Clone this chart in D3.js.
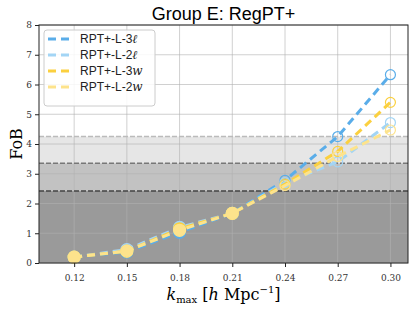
<!DOCTYPE html>
<html><head><meta charset="utf-8">
<script src="https://cdn.jsdelivr.net/npm/d3@7"></script>
<style>body{margin:0;background:#fff}</style>
</head><body>
<svg id="c" width="415" height="310"></svg>
<script>
const kmax = [0.12, 0.15, 0.18, 0.21, 0.24, 0.27, 0.30];
const seriesNames = ["RPT+-L-3ℓ", "RPT+-L-2ℓ", "RPT+-L-3w", "RPT+-L-2w"];
const fobL3l = [0.20, 0.37, 1.03, 1.67, 2.78, 4.25, 6.33];
const fobL2l = [0.20, 0.45, 1.20, 1.67, 2.70, 3.40, 4.72];
const fobL3w = [0.20, 0.40, 1.15, 1.67, 2.65, 3.75, 5.40];
const fobL2w = [0.20, 0.40, 1.10, 1.67, 2.60, 3.58, 4.47];
const bandLevels = [2.42, 3.35, 4.25];
const xTicks = [0.12, 0.15, 0.18, 0.21, 0.24, 0.27, 0.30];
const yTicks = [0,1,2,3,4,5,6,7,8];
const title = "Group E: RegPT+";

const colors = ["#5aade9", "#a3d5f5", "#fbd03f", "#fde38c"];
const allSeries = [fobL3l, fobL2l, fobL3w, fobL2w];

const svg = d3.select("#c");
const L = 39, R = 408, T = 25, B = 263;
const x = d3.scaleLinear().domain([0.10, 0.31]).range([L, R]);
const y = d3.scaleLinear().domain([0, 8]).range([B, T]);

// bands
const bandFill = ["#9a9a9a", "#c2c2c2", "#e6e6e6"];
const bandStroke = ["#444", "#777", "#bbb"];
for (let i = bandLevels.length - 1; i >= 0; i--) {
  svg.append("rect").attr("x", L).attr("width", R - L)
    .attr("y", y(bandLevels[i])).attr("height", y(0) - y(bandLevels[i]))
    .attr("fill", bandFill[i]);
}
// grid
const g = svg.append("g");
xTicks.forEach(t => g.append("line").attr("x1", x(t)).attr("x2", x(t)).attr("y1", T).attr("y2", B)
  .attr("stroke", "#b0b0b0").attr("stroke-opacity", 0.6).attr("stroke-width", 1));
yTicks.forEach(t => g.append("line").attr("y1", y(t)).attr("y2", y(t)).attr("x1", L).attr("x2", R)
  .attr("stroke", "#b0b0b0").attr("stroke-opacity", 0.6).attr("stroke-width", 1));
// band dashed lines
bandLevels.forEach((v, i) => svg.append("line").attr("x1", L).attr("x2", R)
  .attr("y1", y(v)).attr("y2", y(v)).attr("stroke", bandStroke[i])
  .attr("stroke-width", 1.5).attr("stroke-dasharray", "5,2"));

// series
const line = d3.line().x((d, i) => x(kmax[i])).y(d => y(d));
allSeries.forEach((s, si) => {
  const gs = svg.append("g");
  gs.append("path").attr("d", line(s)).attr("fill", "none")
    .attr("stroke", colors[si]).attr("stroke-width", 3).attr("stroke-dasharray", "8,5");
  s.forEach((v, i) => {
    const filled = kmax[i] < 0.235;
    gs.append("circle").attr("cx", x(kmax[i])).attr("cy", y(v))
      .attr("r", filled ? 6 : 5)
      .attr("fill", filled ? colors[si] : "none")
      .attr("stroke", colors[si]).attr("stroke-width", 1.2);
  });
});

// frame
svg.append("rect").attr("x", L).attr("y", T).attr("width", R - L).attr("height", B - T)
  .attr("fill", "none").attr("stroke", "#222").attr("stroke-width", 1);

// axes
const xa = svg.append("g").attr("transform", `translate(0,${B})`)
  .call(d3.axisBottom(x).tickValues(xTicks).tickFormat(d3.format(".2f")).tickSize(4));
const ya = svg.append("g").attr("transform", `translate(${L},0)`)
  .call(d3.axisLeft(y).tickValues(yTicks).tickFormat(d3.format("d")).tickSize(4));
[xa, ya].forEach(a => {
  a.select(".domain").remove();
  a.selectAll("text").attr("font-family", "DejaVu Serif, serif").attr("font-size", 9).attr("fill", "#333");
  a.selectAll("line").attr("stroke", "#222");
});
xa.selectAll("text").attr("dy", "1.2em");

// title
svg.append("text").attr("x", (L + R) / 2).attr("y", 20).attr("text-anchor", "middle")
  .attr("font-family", "Liberation Sans, Arial, sans-serif").attr("font-size", 18).text(title);

// y label
svg.append("text").attr("transform", `translate(22,${(T + B) / 2}) rotate(-90)`)
  .attr("text-anchor", "middle").attr("font-family", "DejaVu Serif, serif").attr("font-size", 16).text("FoB");

// x label
const xl = svg.append("text").attr("x", (L + R) / 2).attr("y", 300).attr("text-anchor", "middle")
  .attr("font-family", "DejaVu Serif, serif").attr("font-size", 16);
xl.append("tspan").attr("font-style", "italic").text("k");
xl.append("tspan").attr("font-size", 10).attr("dy", 3).text("max");
xl.append("tspan").attr("dy", -3).text(" [");
xl.append("tspan").attr("font-style", "italic").text("h");
xl.append("tspan").text(" Mpc");
xl.append("tspan").attr("font-size", 10).attr("dy", -7).text("−1");
xl.append("tspan").attr("dy", 7).text("]");

// legend
const lg = svg.append("g");
lg.append("rect").attr("x", 44).attr("y", 30).attr("width", 111).attr("height", 76).attr("rx", 3)
  .attr("fill", "#fff").attr("fill-opacity", 0.85).attr("stroke", "#ccc");
seriesNames.forEach((n, i) => {
  const yy = 39 + i * 16;
  lg.append("line").attr("x1", 48).attr("x2", 73).attr("y1", yy).attr("y2", yy)
    .attr("stroke", colors[i]).attr("stroke-width", 3).attr("stroke-dasharray", "8,5");
  const tx = lg.append("text").attr("x", 80).attr("y", yy + 4)
    .attr("font-family", "Liberation Sans, Arial, sans-serif").attr("font-size", 12).attr("fill", "#222");
  tx.append("tspan").text(n.slice(0, -1));
  tx.append("tspan").attr("font-family", "DejaVu Serif, serif").attr("font-style", "italic").text(n.slice(-1));
});
</script>
</body></html>
